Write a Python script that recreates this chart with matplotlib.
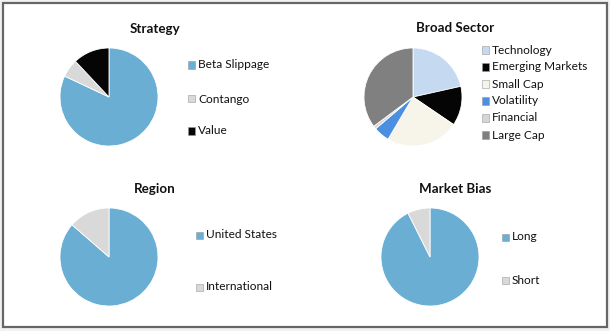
import matplotlib
matplotlib.use("Agg")
import matplotlib.pyplot as plt
from matplotlib.patches import Rectangle

plt.rcParams['font.family'] = ['Lato', 'DejaVu Sans']

# ---- data ----
strategy_labels = ["Beta Slippage", "Contango", "Value"]
strategy_values = [82, 6, 12]

sector_labels = ["Technology", "Emerging Markets", "Small Cap", "Volatility", "Financial", "Large Cap"]
sector_values = [21.5, 13, 24, 5.3, 1, 35.2]

region_labels = ["United States", "International"]
region_values = [86.4, 13.6]

bias_labels = ["Long", "Short"]
bias_values = [92.6, 7.4]

# ---- styles ----
strategy_colors = ["#6BAED3", "#D9D9D9", "#050505"]
sector_colors = ["#C5D9F1", "#050505", "#F7F5E9", "#4A8FE0", "#D6D6D6", "#808080"]
region_colors = ["#6BAED3", "#D9D9D9"]
bias_colors = ["#6BAED3", "#D9D9D9"]

W, H = 610, 331
fig = plt.figure(figsize=(W / 100, H / 100), dpi=100, facecolor="#F2F2F2")

# white panel with gray border
fig.add_artist(Rectangle((3 / W, 1 - 327 / H), 604 / W, 324 / H, transform=fig.transFigure,
                         facecolor="white", edgecolor="#666666", linewidth=1.6, zorder=-5))


def px(x, y):
    return x / W, 1 - y / H


def draw(cx, cy, r, title, title_xy, labels, values, colors, leg_x, leg_ys):
    ax = fig.add_axes([(cx - r) / W, 1 - (cy + r) / H, 2 * r / W, 2 * r / H])
    ax.pie(values, colors=colors, startangle=90, counterclock=False, radius=1,
           wedgeprops=dict(edgecolor="white", linewidth=0.6))
    ax.set_xlim(-1.02, 1.02)
    ax.set_ylim(-1.02, 1.02)
    ax.set_aspect("equal")
    ax.axis("off")
    ax.patch.set_visible(False)
    fig.text(*px(*title_xy), title, ha="center", va="center", fontsize=9.6,
             fontweight="bold", color="#111111")
    for lab, col, y in zip(labels, colors, leg_ys):
        fig.add_artist(Rectangle(px(leg_x, y + 3.5), 7 / W, 7 / H, transform=fig.transFigure,
                                 facecolor=col, edgecolor="#9a9a9a", linewidth=0.4))
        fig.text(*px(leg_x + 10, y), lab, ha="left", va="center", fontsize=8.6, color="#111111")


draw(109, 97, 50, "Strategy", (155, 29), strategy_labels, strategy_values, strategy_colors,
     188, [65, 99, 131])
draw(413, 97, 50, "Broad Sector", (455, 28), sector_labels, sector_values, sector_colors,
     482, [50, 67, 84, 101, 118, 135])
draw(109, 257, 50, "Region", (155, 189), region_labels, region_values, region_colors,
     196, [235, 287])
draw(430, 257, 50, "Market Bias", (455, 189), bias_labels, bias_values, bias_colors,
     502, [237, 280])

fig.savefig("out.png", dpi=100, facecolor=fig.get_facecolor())
